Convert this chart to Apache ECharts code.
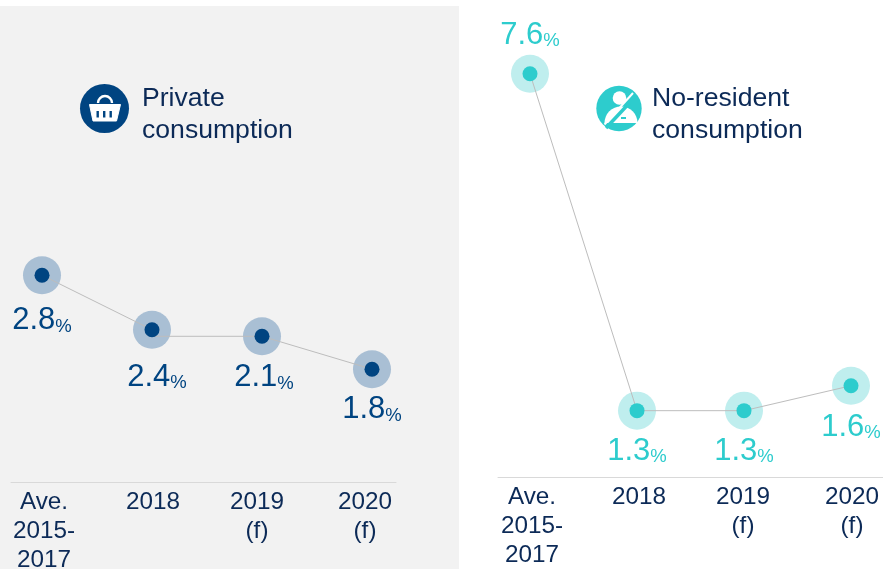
<!DOCTYPE html>
<html>
<head>
<meta charset="utf-8">
<style>html,body{margin:0;padding:0;background:#fff}#c{width:883px;height:569px}</style>
<script src="https://cdn.jsdelivr.net/npm/echarts@6/dist/echarts.min.js"></script>
</head>
<body>
<div id="c"></div>
<script>
const categories = ['Ave.\n2015-\n2017', '2018', '2019\n(f)', '2020\n(f)'];
const privateLabels = ['2.8', '2.4', '2.1', '1.8'];
const privateHeights = [2.8, 2.22, 2.15, 1.8];
const noResidentLabels = ['7.6', '1.3', '1.3', '1.6'];
const noResidentHeights = [7.6, 1.25, 1.25, 1.72];

const FONT = '"Liberation Sans", Arial, sans-serif';
const NAVY = '#0C2A57', BLUE = '#004481', BLUE_H = '#A9BFD4', TEAL = '#2DCCCD', TEAL_H = '#BFEEEE', LINE = '#BDBDBD';

const chart = echarts.init(document.getElementById('c'), null, {renderer: 'canvas'});

function panel(idx, cfg) {
  const pts = cfg.heights.map((v, i) => [i, v]);
  const common = {xAxisIndex: idx, yAxisIndex: idx, silent: true, animation: false};
  // The reference's connector leaves a marker slightly off centre, hidden under the dot.
  const linePts = [];
  pts.forEach((p, i) => {
    linePts.push(p);
    if (cfg.lineJog && cfg.lineJog[i] != null) linePts.push([i, cfg.lineJog[i]]);
  });
  return [
    Object.assign({type: 'scatter', data: pts, symbolSize: 38, itemStyle: {color: cfg.halo, opacity: 1}, z: 2}, common),
    Object.assign({type: 'line', data: linePts, showSymbol: false, lineStyle: {color: LINE, width: 1}, z: 3}, common),
    Object.assign({
      type: 'scatter', z: 4, symbolSize: 15, itemStyle: {color: cfg.color, opacity: 1},
      data: pts.map((p, i) => ({
        value: p,
        label: {
          show: true, position: 'inside', offset: cfg.offsets[i],
          formatter: '{n|' + cfg.labels[i] + '}{p|%}',
          rich: {
            n: {fontFamily: FONT, fontSize: 31, color: cfg.color, verticalAlign: 'bottom', lineHeight: 34},
            p: {fontFamily: FONT, fontSize: 18.5, color: cfg.color, verticalAlign: 'bottom', lineHeight: 31}
          }
        }
      }))
    }, common)
  ];
}

function xAxis(idx, cfg) {
  return {
    type: 'value', gridIndex: idx, min: cfg.min, max: cfg.max,
    axisLine: {show: true, onZero: false, lineStyle: {color: '#D9D9D9', width: 1}},
    axisTick: {show: false}, splitLine: {show: false},
    axisLabel: {
      customValues: cfg.nudges.map((n, i) => i + n / cfg.step),
      formatter: v => categories[Math.round(v)],
      fontFamily: FONT, fontSize: 24.3, lineHeight: 29, color: NAVY, margin: 6,
      showMinLabel: true, showMaxLabel: true, hideOverlap: false
    }
  };
}

const left = {heights: privateHeights, labels: privateLabels, color: BLUE, halo: BLUE_H,
  lineJog: [null, 2.15, null, null],
  offsets: [[0, 44], [5, 46], [2, 40], [0, 39]]};
const right = {heights: noResidentHeights, labels: noResidentLabels, color: TEAL, halo: TEAL_H,
  offsets: [[0, -40], [0, 39], [0, 39], [0, 40]]};

chart.setOption({
  animation: false,
  backgroundColor: '#FFFFFF',
  graphic: [
    {type: 'rect', z: -10, shape: {x: 0, y: 6, width: 459, height: 563}, style: {fill: '#F2F2F2'}},
    {type: 'circle', z: 5, shape: {cx: 104.5, cy: 108.5, r: 24.5}, style: {fill: BLUE}},
    {type: 'arc', z: 6, shape: {cx: 105, cy: 103, r: 7, startAngle: Math.PI, endAngle: 2 * Math.PI},
      style: {fill: null, stroke: '#fff', lineWidth: 2.4}},
    {type: 'polygon', z: 6, shape: {points: [[89.5, 104.5], [120.5, 104.5], [116.5, 121], [93, 121]], smooth: 0}, style: {fill: '#fff', stroke: '#fff', lineWidth: 1, lineJoin: 'round'}},
    {type: 'rect', z: 7, shape: {x: 96.5, y: 111, width: 2.4, height: 6.5}, style: {fill: BLUE}},
    {type: 'rect', z: 7, shape: {x: 103, y: 111, width: 2.4, height: 6.5}, style: {fill: BLUE}},
    {type: 'rect', z: 7, shape: {x: 109.5, y: 111, width: 2.4, height: 6.5}, style: {fill: BLUE}},
    {type: 'circle', z: 5, shape: {cx: 619, cy: 108.5, r: 22.7}, style: {fill: TEAL}},
    {type: 'circle', z: 6, shape: {cx: 619.5, cy: 98, r: 6.8}, style: {fill: '#fff'}},
    {type: 'sector', z: 6, shape: {cx: 621, cy: 123, r: 16.5, r0: 0, startAngle: Math.PI, endAngle: 2 * Math.PI}, style: {fill: '#fff'}},
    {type: 'line', z: 7, shape: {x1: 606, y1: 128, x2: 636, y2: 96}, style: {stroke: TEAL, lineWidth: 3.5}},
    {type: 'line', z: 8, shape: {x1: 604.5, y1: 124.5, x2: 633, y2: 93}, style: {stroke: '#fff', lineWidth: 2}},
    {type: 'rect', z: 8, shape: {x: 621, y: 117, width: 5, height: 2}, style: {fill: TEAL}}
  ],
  title: [
    {text: 'Private\nconsumption', left: 142, top: 83,
      textStyle: {fontFamily: FONT, fontSize: 26.6, fontWeight: 'normal', color: NAVY, lineHeight: 32}, padding: 0},
    {text: 'No-resident\nconsumption', left: 652, top: 83,
      textStyle: {fontFamily: FONT, fontSize: 26.6, fontWeight: 'normal', color: NAVY, lineHeight: 32}, padding: 0}
  ],
  grid: [
    {left: 11, width: 385, top: 247, height: 235, containLabel: false, outerBoundsMode: 'none'},
    {left: 498, width: 385, top: 26, height: 451, containLabel: false, outerBoundsMode: 'none'}
  ],
  xAxis: [
    xAxis(0, {min: -31 / 110, max: 354 / 110, step: 110, nudges: [2, 1, -5, -7]}),
    xAxis(1, {min: -32 / 107, max: 353 / 107, step: 107, nudges: [2, 2, -1, 1]})
  ],
  yAxis: [
    {type: 'value', gridIndex: 0, min: 0.6, max: 3.1, show: false},
    {type: 'value', gridIndex: 1, min: 0, max: 8.5, show: false}
  ],
  series: [...panel(0, left), ...panel(1, right)]
});
</script>
</body>
</html>
